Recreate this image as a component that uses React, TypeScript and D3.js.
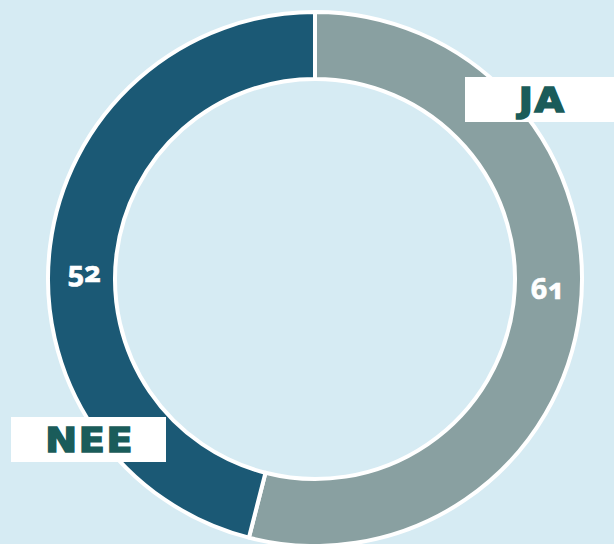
import React from "react";
import * as d3 from "d3";

const categories = ["JA", "NEE"];
const values = [61, 52];
const colors = ["#89a0a1", "#1b5975"];

const W = 614;
const H = 544;
const cx = 315;
const cy = 279;
const rOuter = 267;
const rInner = 200;

// label box layout (center positions)
const boxes = [
  { x: 541, y: 99.5, w: 152, h: 45 },
  { x: 88.5, y: 439.5, w: 155, h: 45 },
];

export default function App() {
  const pie = d3
    .pie<number>()
    .sort(null)
    .startAngle(0)
    .endAngle(2 * Math.PI)
    .value((d) => d);
  const arcs = pie(values);
  const arc = d3.arc<d3.PieArcDatum<number>>().innerRadius(rInner).outerRadius(rOuter);
  const labelArc = d3
    .arc<d3.PieArcDatum<number>>()
    .innerRadius((rInner + rOuter) / 2)
    .outerRadius((rInner + rOuter) / 2);

  return (
    <div style={{ position: "absolute", left: 0, top: 0 }}>
      <svg width={W} height={H} style={{ display: "block", background: "#d6ebf3" }}>
        <rect x={0} y={0} width={W} height={H} fill="#d6ebf3" />
        <g transform={`translate(${cx},${cy})`}>
          {arcs.map((a, i) => (
            <path key={i} d={arc(a) || ""} fill={colors[i]} stroke="#ffffff" strokeWidth={4} strokeLinejoin="round" />
          ))}
          {arcs.map((a, i) => {
            const [lx, ly] = labelArc.centroid(a);
            return (
              <text
                key={"v" + i}
                x={lx + 1}
                y={ly * 0.3}
                textAnchor="middle"
                dominantBaseline="central"
                fill="#ffffff"
                stroke="#ffffff"
                strokeWidth={0.6}
                fontFamily="'Noto Sans', sans-serif"
                fontWeight={700}
                fontSize={29}
                style={{ fontVariantNumeric: "oldstyle-nums" }}
              >
                {values[i]}
              </text>
            );
          })}
        </g>
        {categories.map((c, i) => {
          const b = boxes[i];
          return (
            <g key={c}>
              <rect x={b.x - b.w / 2} y={b.y - b.h / 2} width={b.w} height={b.h} fill="#ffffff" />
              <g transform={`translate(${b.x},${b.y + 1}) scale(1.12,1)`}>
                <text
                  x={1}
                  y={0}
                  textAnchor="middle"
                  dominantBaseline="central"
                  fill="#1a5c5a"
                  stroke="#1a5c5a"
                  strokeWidth={1.6}
                  fontFamily="'DejaVu Sans', sans-serif"
                  fontWeight={700}
                  fontSize={34}
                  letterSpacing={1.5}
                >
                  {c}
                </text>
              </g>
            </g>
          );
        })}
      </svg>
    </div>
  );
}
